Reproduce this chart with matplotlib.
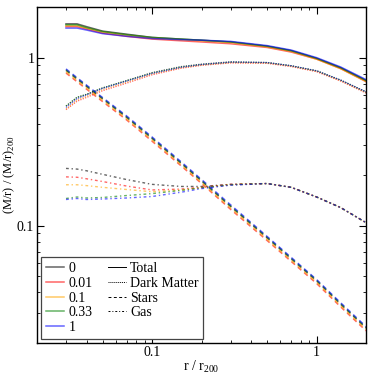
import matplotlib
matplotlib.use('Agg')
import matplotlib.pyplot as plt
from matplotlib.lines import Line2D
from matplotlib.ticker import FuncFormatter

plt.rcParams['font.family'] = ['Liberation Serif', 'DejaVu Serif']
plt.rcParams['mathtext.fontset'] = 'custom'
plt.rcParams['mathtext.rm'] = 'Liberation Serif'

# radius in units of r200
radius = [0.03, 0.035, 0.04, 0.05, 0.07, 0.1, 0.15, 0.2, 0.3, 0.5, 0.7, 1.0, 1.4, 2.0]

runs = ['0', '0.01', '0.1', '0.33', '1']
run_colors = ['black', 'red', 'orange', 'green', 'blue']

total = [
    [1.59, 1.59, 1.53, 1.44, 1.38, 1.32, 1.29, 1.27, 1.24, 1.17, 1.10, 0.99, 0.87, 0.73],
    [1.53, 1.53, 1.48, 1.40, 1.34, 1.29, 1.26, 1.24, 1.21, 1.15, 1.08, 0.98, 0.86, 0.72],
    [1.55, 1.55, 1.50, 1.42, 1.36, 1.31, 1.28, 1.26, 1.23, 1.16, 1.09, 0.98, 0.86, 0.72],
    [1.57, 1.57, 1.51, 1.43, 1.37, 1.32, 1.29, 1.27, 1.24, 1.17, 1.10, 0.99, 0.87, 0.73],
    [1.50, 1.50, 1.46, 1.39, 1.34, 1.30, 1.28, 1.27, 1.25, 1.18, 1.11, 1.00, 0.88, 0.74],
]

dark_matter = [
    [0.515, 0.58, 0.605, 0.66, 0.73, 0.815, 0.885, 0.915, 0.945, 0.935, 0.895, 0.835, 0.735, 0.625],
    [0.49, 0.55, 0.58, 0.635, 0.705, 0.79, 0.865, 0.90, 0.93, 0.925, 0.885, 0.825, 0.725, 0.615],
    [0.495, 0.56, 0.59, 0.645, 0.715, 0.80, 0.87, 0.905, 0.935, 0.93, 0.89, 0.83, 0.73, 0.62],
    [0.515, 0.58, 0.605, 0.66, 0.73, 0.81, 0.88, 0.91, 0.94, 0.935, 0.895, 0.835, 0.735, 0.625],
    [0.505, 0.57, 0.60, 0.655, 0.725, 0.805, 0.875, 0.91, 0.94, 0.935, 0.895, 0.835, 0.735, 0.625],
]

stars = [
    [0.84, 0.745, 0.673, 0.568, 0.441, 0.330, 0.235, 0.184, 0.130, 0.0845, 0.0634, 0.0468, 0.0340, 0.0245],
    [0.81, 0.719, 0.649, 0.548, 0.426, 0.318, 0.227, 0.178, 0.125, 0.0815, 0.0612, 0.0452, 0.0328, 0.0236],
    [0.823, 0.730, 0.660, 0.557, 0.432, 0.323, 0.230, 0.180, 0.127, 0.0828, 0.0621, 0.0459, 0.0333, 0.0240],
    [0.848, 0.752, 0.680, 0.574, 0.445, 0.333, 0.237, 0.186, 0.131, 0.0853, 0.0640, 0.0473, 0.0343, 0.0247],
    [0.857, 0.760, 0.686, 0.579, 0.450, 0.337, 0.240, 0.188, 0.133, 0.0862, 0.0647, 0.0477, 0.0347, 0.0250],
]

gas = [
    [0.219, 0.217, 0.212, 0.202, 0.188, 0.176, 0.171, 0.171, 0.176, 0.178, 0.169, 0.148, 0.128, 0.104],
    [0.195, 0.194, 0.190, 0.183, 0.172, 0.163, 0.165, 0.169, 0.176, 0.178, 0.169, 0.148, 0.128, 0.104],
    [0.175, 0.175, 0.173, 0.169, 0.164, 0.159, 0.163, 0.168, 0.175, 0.178, 0.169, 0.148, 0.128, 0.104],
    [0.145, 0.148, 0.146, 0.147, 0.151, 0.155, 0.162, 0.168, 0.175, 0.178, 0.169, 0.148, 0.128, 0.104],
    [0.143, 0.145, 0.143, 0.144, 0.146, 0.149, 0.158, 0.166, 0.174, 0.178, 0.169, 0.148, 0.128, 0.104],
]

# (label, data, linestyle, linewidth)
components = [('Total', total, '-', 1.1),
              ('Dark Matter', dark_matter, (0, (1, 1)), 0.9),
              ('Stars', stars, (0, (3, 2.5)), 1.1),
              ('Gas', gas, (0, (2, 2, 1, 2)), 1.0)]

fig = plt.figure(figsize=(3.74, 3.74), dpi=100)
ax = fig.add_axes([0.099, 0.083, 0.88, 0.898])

for name, data, ls, lw in components:
    for i, color in enumerate(run_colors):
        ax.plot(radius, data[i], color=color, ls=ls, lw=lw, alpha=0.6)

ax.set_xscale('log')
ax.set_yscale('log')
ax.set_xlim(0.02, 2)
ax.set_ylim(0.02, 2)

fmt = FuncFormatter(lambda v, p: '%g' % v)
ax.xaxis.set_major_formatter(fmt)
ax.yaxis.set_major_formatter(fmt)
ax.xaxis.set_minor_formatter(FuncFormatter(lambda v, p: ''))
ax.yaxis.set_minor_formatter(FuncFormatter(lambda v, p: ''))
ax.tick_params(which='both', direction='in', top=True, right=True, labelsize=10, pad=2)
ax.tick_params(which='major', length=5)
ax.tick_params(which='minor', length=2.5)
for s in ax.spines.values():
    s.set_linewidth(1.0)

ax.set_xlabel('r / r$_{200}$', fontsize=10, labelpad=0)
ax.set_ylabel('(M/r) / (M/r)$_{200}$', fontsize=9)
ax.yaxis.set_label_coords(-0.062, 0.5)

handles = []
for lab, color in zip(runs, run_colors):
    handles.append(Line2D([], [], color=color, lw=1.1, alpha=0.6, label=lab))
for name, data, ls, lw in components:
    handles.append(Line2D([], [], color='black', lw=0.7, ls=ls, label=name))
handles.append(Line2D([], [], alpha=0, label=' '))

leg = ax.legend(handles=handles, ncol=2, loc='lower left', fontsize=10,
                fancybox=False, edgecolor='#444444', framealpha=1,
                handlelength=1.3, handletextpad=0.3, labelspacing=0.12,
                columnspacing=1.1, borderaxespad=0.3, borderpad=0.35)
leg.get_frame().set_linewidth(0.9)

fig.savefig('out.png', dpi=100)
